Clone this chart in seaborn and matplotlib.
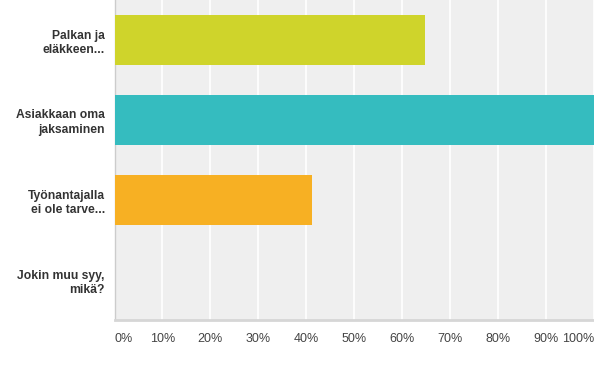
import matplotlib
matplotlib.use("Agg")
import matplotlib.pyplot as plt
import seaborn as sns
import pandas as pd

categories = ["Palkan ja\neläkkeen...", "Asiakkaan oma\njaksaminen",
              "Työnantajalla\nei ole tarve...", "Jokin muu syy,\nmikä?"]
values = [64.7, 100.0, 41.2, 0.0]
colors = ["#cfd42b", "#35bcbf", "#f7b023", "#a0a0a0"]
tick_values = [0, 10, 20, 30, 40, 50, 60, 70, 80, 90, 100]
tick_labels = ["0%", "10%", "20%", "30%", "40%", "50%", "60%", "70%", "80%", "90%", "100%"]

sns.set_theme(style="white")
plt.rcParams["font.family"] = ["Liberation Sans", "DejaVu Sans"]

df = pd.DataFrame({"cat": categories, "val": values})

fig = plt.figure(figsize=(5.94, 3.70), dpi=100)
ax = fig.add_axes([114.5 / 594, 1 - 320 / 370, 1 - 114.5 / 594, 320 / 370])
ax.set_facecolor("#efefef")

sns.barplot(data=df, x="val", y="cat", hue="cat", palette=colors, legend=False,
            orient="h", width=0.625, ax=ax, saturation=1, linewidth=0,
            edgecolor="none", zorder=3)

ax.set_xlim(0, 100)
ax.set_ylim(3.5, -0.5)
ax.set_xticks(tick_values)
ax.set_xticklabels(tick_labels, fontsize=9, color="#444444")
for lbl, t in zip(ax.get_xticklabels(), tick_values):
    if t == 0:
        lbl.set_ha("left")
    elif t == 100:
        lbl.set_ha("right")
    else:
        lbl.set_ha("center")
ax.tick_params(axis="x", length=0, pad=9)
ax.tick_params(axis="y", length=0, pad=7)
for lbl in ax.get_yticklabels():
    lbl.set_fontweight("bold")
    lbl.set_fontsize(8.7)
    lbl.set_color("#333333")
    lbl.set_multialignment("right")
    lbl.set_linespacing(1.25)

ax.xaxis.grid(True, color="white", linewidth=1.2, zorder=0)
ax.set_axisbelow(True)
ax.set_xlabel("")
ax.set_ylabel("")

for s in ["top", "right"]:
    ax.spines[s].set_visible(False)
ax.spines["left"].set_color("#cccccc")
ax.spines["left"].set_linewidth(1)
ax.spines["bottom"].set_color("#d6d6d6")
ax.spines["bottom"].set_linewidth(2)

fig.savefig("out.png", dpi=100)
